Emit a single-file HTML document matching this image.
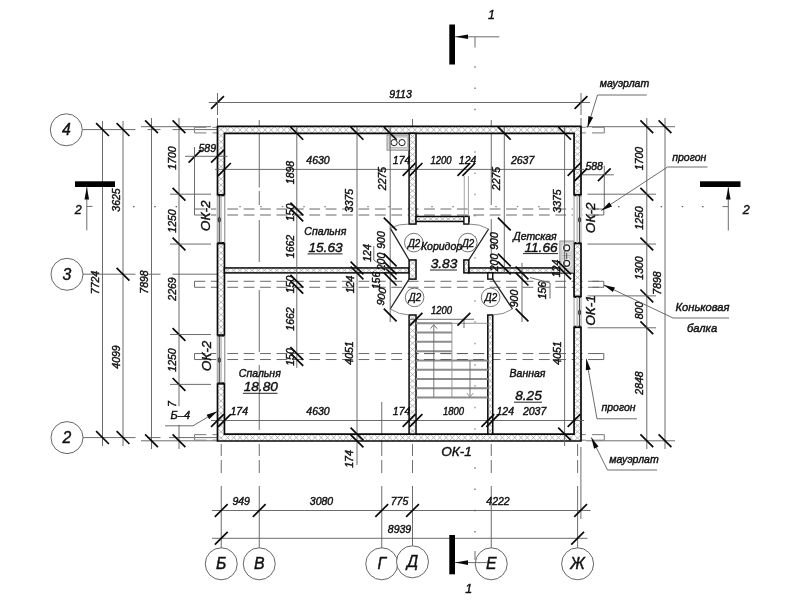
<!DOCTYPE html>
<html lang="ru"><head><meta charset="utf-8"><title>План</title>
<style>
html,body{margin:0;padding:0;background:#fff;}
body{width:800px;height:600px;overflow:hidden;font-family:"Liberation Sans",sans-serif;}
svg{display:block;will-change:transform;}
svg text{font-family:"Liberation Sans",sans-serif;font-style:italic;stroke:#111;stroke-width:0.42px;}
</style></head><body>
<svg width="800" height="600" viewBox="0 0 800 600">
<rect width="800" height="600" fill="#ffffff"/>
<line x1="82.50" y1="129.60" x2="135.50" y2="129.60" stroke="#5c5c5c" stroke-width="0.9"/>
<line x1="82.50" y1="274.20" x2="135.50" y2="274.20" stroke="#5c5c5c" stroke-width="0.9"/>
<line x1="82.50" y1="437.60" x2="135.50" y2="437.60" stroke="#5c5c5c" stroke-width="0.9"/>
<line x1="147.50" y1="274.20" x2="160.50" y2="274.20" stroke="#5c5c5c" stroke-width="0.9"/>
<line x1="172.50" y1="274.20" x2="217.50" y2="274.20" stroke="#5c5c5c" stroke-width="0.9"/>
<line x1="147.50" y1="437.60" x2="160.50" y2="437.60" stroke="#5c5c5c" stroke-width="0.9"/>
<line x1="169.00" y1="437.60" x2="217.50" y2="437.60" stroke="#5c5c5c" stroke-width="0.9"/>
<line x1="147.50" y1="129.60" x2="160.50" y2="129.60" stroke="#5c5c5c" stroke-width="0.9"/>
<line x1="172.50" y1="129.60" x2="217.50" y2="129.60" stroke="#5c5c5c" stroke-width="0.9"/>
<line x1="141.00" y1="126.70" x2="211.00" y2="126.70" stroke="#5c5c5c" stroke-width="0.9"/>
<line x1="141.00" y1="440.80" x2="217.50" y2="440.80" stroke="#5c5c5c" stroke-width="0.9"/>
<line x1="586.00" y1="126.70" x2="675.00" y2="126.70" stroke="#5c5c5c" stroke-width="0.9"/>
<line x1="586.00" y1="440.80" x2="675.00" y2="440.80" stroke="#5c5c5c" stroke-width="0.9"/>
<line x1="221.25" y1="486.00" x2="221.25" y2="548.00" stroke="#5c5c5c" stroke-width="0.9"/>
<line x1="221.25" y1="460.00" x2="221.25" y2="473.00" stroke="#5c5c5c" stroke-width="0.9"/>
<line x1="259.25" y1="486.00" x2="259.25" y2="548.00" stroke="#5c5c5c" stroke-width="0.9"/>
<line x1="259.25" y1="460.00" x2="259.25" y2="473.00" stroke="#5c5c5c" stroke-width="0.9"/>
<line x1="381.75" y1="486.00" x2="381.75" y2="548.00" stroke="#5c5c5c" stroke-width="0.9"/>
<line x1="381.75" y1="460.00" x2="381.75" y2="473.00" stroke="#5c5c5c" stroke-width="0.9"/>
<line x1="412.50" y1="486.00" x2="412.50" y2="548.00" stroke="#5c5c5c" stroke-width="0.9"/>
<line x1="412.50" y1="460.00" x2="412.50" y2="473.00" stroke="#5c5c5c" stroke-width="0.9"/>
<line x1="491.25" y1="486.00" x2="491.25" y2="548.00" stroke="#5c5c5c" stroke-width="0.9"/>
<line x1="491.25" y1="460.00" x2="491.25" y2="473.00" stroke="#5c5c5c" stroke-width="0.9"/>
<line x1="577.60" y1="486.00" x2="577.60" y2="548.00" stroke="#5c5c5c" stroke-width="0.9"/>
<line x1="577.60" y1="460.00" x2="577.60" y2="473.00" stroke="#5c5c5c" stroke-width="0.9"/>
<line x1="259.25" y1="120.00" x2="259.25" y2="187.50" stroke="#5c5c5c" stroke-width="0.9"/>
<line x1="259.25" y1="191.00" x2="259.25" y2="205.00" stroke="#5c5c5c" stroke-width="0.9"/>
<line x1="259.25" y1="220.00" x2="259.25" y2="262.00" stroke="#5c5c5c" stroke-width="0.9"/>
<line x1="259.25" y1="290.00" x2="259.25" y2="352.00" stroke="#5c5c5c" stroke-width="0.9"/>
<line x1="259.25" y1="365.00" x2="259.25" y2="430.00" stroke="#5c5c5c" stroke-width="0.9"/>
<line x1="259.25" y1="444.00" x2="259.25" y2="456.00" stroke="#5c5c5c" stroke-width="0.9"/>
<line x1="381.75" y1="402.00" x2="381.75" y2="456.00" stroke="#5c5c5c" stroke-width="0.9"/>
<line x1="412.50" y1="119.00" x2="412.50" y2="126.00" stroke="#5c5c5c" stroke-width="0.9"/>
<line x1="491.25" y1="120.00" x2="491.25" y2="205.00" stroke="#5c5c5c" stroke-width="0.9"/>
<line x1="491.25" y1="219.00" x2="491.25" y2="262.00" stroke="#5c5c5c" stroke-width="0.9"/>
<line x1="491.25" y1="444.00" x2="491.25" y2="456.00" stroke="#5c5c5c" stroke-width="0.9"/>
<line x1="412.50" y1="444.00" x2="412.50" y2="456.00" stroke="#5c5c5c" stroke-width="0.9"/>
<line x1="221.25" y1="444.00" x2="221.25" y2="456.00" stroke="#5c5c5c" stroke-width="0.9"/>
<line x1="577.60" y1="444.00" x2="577.60" y2="456.00" stroke="#5c5c5c" stroke-width="0.9"/>
<line x1="580.90" y1="447.00" x2="580.90" y2="519.00" stroke="#5c5c5c" stroke-width="0.9"/>
<line x1="475.00" y1="66.30" x2="475.00" y2="67.70" stroke="#555" stroke-width="1.1"/>
<line x1="475.00" y1="87.60" x2="475.00" y2="89.00" stroke="#555" stroke-width="1.1"/>
<line x1="475.00" y1="108.80" x2="475.00" y2="110.20" stroke="#555" stroke-width="1.1"/>
<line x1="475.00" y1="467.30" x2="475.00" y2="468.70" stroke="#555" stroke-width="1.1"/>
<line x1="475.00" y1="488.60" x2="475.00" y2="490.00" stroke="#555" stroke-width="1.1"/>
<line x1="475.00" y1="509.80" x2="475.00" y2="511.20" stroke="#555" stroke-width="1.1"/>
<line x1="475.00" y1="531.10" x2="475.00" y2="532.50" stroke="#555" stroke-width="1.1"/>
<line x1="475.00" y1="151.30" x2="475.00" y2="152.70" stroke="#777" stroke-width="1.1"/>
<line x1="475.00" y1="172.60" x2="475.00" y2="174.00" stroke="#777" stroke-width="1.1"/>
<line x1="475.00" y1="193.80" x2="475.00" y2="195.20" stroke="#777" stroke-width="1.1"/>
<line x1="475.00" y1="215.10" x2="475.00" y2="216.50" stroke="#777" stroke-width="1.1"/>
<line x1="475.00" y1="236.30" x2="475.00" y2="237.70" stroke="#777" stroke-width="1.1"/>
<line x1="475.00" y1="257.30" x2="475.00" y2="258.70" stroke="#777" stroke-width="1.1"/>
<line x1="475.00" y1="300.30" x2="475.00" y2="301.70" stroke="#777" stroke-width="1.1"/>
<line x1="475.00" y1="321.30" x2="475.00" y2="322.70" stroke="#777" stroke-width="1.1"/>
<line x1="475.00" y1="342.80" x2="475.00" y2="344.20" stroke="#777" stroke-width="1.1"/>
<line x1="475.00" y1="364.30" x2="475.00" y2="365.70" stroke="#777" stroke-width="1.1"/>
<line x1="475.00" y1="385.30" x2="475.00" y2="386.70" stroke="#777" stroke-width="1.1"/>
<line x1="475.00" y1="406.80" x2="475.00" y2="408.20" stroke="#777" stroke-width="1.1"/>
<line x1="475.00" y1="428.30" x2="475.00" y2="429.70" stroke="#777" stroke-width="1.1"/>
<line x1="475.00" y1="36.80" x2="475.00" y2="47.50" stroke="#5c5c5c" stroke-width="0.9"/>
<line x1="475.00" y1="551.00" x2="475.00" y2="560.00" stroke="#5c5c5c" stroke-width="0.9"/>
<line x1="133.10" y1="206.60" x2="134.50" y2="206.60" stroke="#555" stroke-width="1.1"/>
<line x1="154.30" y1="206.60" x2="155.70" y2="206.60" stroke="#555" stroke-width="1.1"/>
<line x1="175.60" y1="206.60" x2="177.00" y2="206.60" stroke="#555" stroke-width="1.1"/>
<line x1="618.10" y1="206.60" x2="619.50" y2="206.60" stroke="#555" stroke-width="1.1"/>
<line x1="639.30" y1="206.60" x2="640.70" y2="206.60" stroke="#555" stroke-width="1.1"/>
<line x1="660.60" y1="206.60" x2="662.00" y2="206.60" stroke="#555" stroke-width="1.1"/>
<line x1="681.80" y1="206.60" x2="683.20" y2="206.60" stroke="#555" stroke-width="1.1"/>
<line x1="702.10" y1="206.60" x2="703.50" y2="206.60" stroke="#555" stroke-width="1.1"/>
<line x1="239.30" y1="206.60" x2="240.70" y2="206.60" stroke="#777" stroke-width="1.1"/>
<line x1="260.30" y1="206.60" x2="261.70" y2="206.60" stroke="#777" stroke-width="1.1"/>
<line x1="281.80" y1="206.60" x2="283.20" y2="206.60" stroke="#777" stroke-width="1.1"/>
<line x1="303.30" y1="206.60" x2="304.70" y2="206.60" stroke="#777" stroke-width="1.1"/>
<line x1="324.30" y1="206.60" x2="325.70" y2="206.60" stroke="#777" stroke-width="1.1"/>
<line x1="345.80" y1="206.60" x2="347.20" y2="206.60" stroke="#777" stroke-width="1.1"/>
<line x1="367.30" y1="206.60" x2="368.70" y2="206.60" stroke="#777" stroke-width="1.1"/>
<line x1="388.30" y1="206.60" x2="389.70" y2="206.60" stroke="#777" stroke-width="1.1"/>
<line x1="431.30" y1="206.60" x2="432.70" y2="206.60" stroke="#777" stroke-width="1.1"/>
<line x1="452.30" y1="206.60" x2="453.70" y2="206.60" stroke="#777" stroke-width="1.1"/>
<line x1="495.30" y1="206.60" x2="496.70" y2="206.60" stroke="#777" stroke-width="1.1"/>
<line x1="516.80" y1="206.60" x2="518.20" y2="206.60" stroke="#777" stroke-width="1.1"/>
<line x1="538.30" y1="206.60" x2="539.70" y2="206.60" stroke="#777" stroke-width="1.1"/>
<line x1="559.30" y1="206.60" x2="560.70" y2="206.60" stroke="#777" stroke-width="1.1"/>
<line x1="86.80" y1="206.40" x2="92.50" y2="206.40" stroke="#5c5c5c" stroke-width="0.9"/>
<line x1="722.50" y1="206.60" x2="728.30" y2="206.60" stroke="#5c5c5c" stroke-width="0.9"/>
<line x1="194.50" y1="209.03" x2="603.80" y2="209.03" stroke="#696969" stroke-width="1.0" stroke-dasharray="10.8 5.6"/>
<line x1="194.50" y1="215.01" x2="603.80" y2="215.01" stroke="#696969" stroke-width="1.0" stroke-dasharray="10.8 5.6"/>
<line x1="194.50" y1="209.03" x2="194.50" y2="215.01" stroke="#696969" stroke-width="1.0"/>
<line x1="603.80" y1="209.03" x2="603.80" y2="215.01" stroke="#696969" stroke-width="1.0"/>
<line x1="592.40" y1="209.03" x2="603.80" y2="209.03" stroke="#696969" stroke-width="1.0"/>
<line x1="592.40" y1="215.01" x2="603.80" y2="215.01" stroke="#696969" stroke-width="1.0"/>
<line x1="194.50" y1="281.29" x2="603.80" y2="281.29" stroke="#696969" stroke-width="1.0" stroke-dasharray="10.8 5.6"/>
<line x1="194.50" y1="287.28" x2="603.80" y2="287.28" stroke="#696969" stroke-width="1.0" stroke-dasharray="10.8 5.6"/>
<line x1="194.50" y1="281.29" x2="194.50" y2="287.28" stroke="#696969" stroke-width="1.0"/>
<line x1="603.80" y1="281.29" x2="603.80" y2="287.28" stroke="#696969" stroke-width="1.0"/>
<line x1="592.40" y1="281.29" x2="603.80" y2="281.29" stroke="#696969" stroke-width="1.0"/>
<line x1="592.40" y1="287.28" x2="603.80" y2="287.28" stroke="#696969" stroke-width="1.0"/>
<line x1="194.50" y1="353.56" x2="603.80" y2="353.56" stroke="#696969" stroke-width="1.0" stroke-dasharray="10.8 5.6"/>
<line x1="194.50" y1="359.54" x2="603.80" y2="359.54" stroke="#696969" stroke-width="1.0" stroke-dasharray="10.8 5.6"/>
<line x1="194.50" y1="353.56" x2="194.50" y2="359.54" stroke="#696969" stroke-width="1.0"/>
<line x1="603.80" y1="353.56" x2="603.80" y2="359.54" stroke="#696969" stroke-width="1.0"/>
<line x1="592.40" y1="353.56" x2="603.80" y2="353.56" stroke="#696969" stroke-width="1.0"/>
<line x1="592.40" y1="359.54" x2="603.80" y2="359.54" stroke="#696969" stroke-width="1.0"/>
<line x1="194.50" y1="127.30" x2="206.30" y2="127.30" stroke="#858585" stroke-width="1.1"/>
<line x1="212.50" y1="127.30" x2="217.50" y2="127.30" stroke="#858585" stroke-width="1.1"/>
<line x1="582.00" y1="127.30" x2="585.80" y2="127.30" stroke="#858585" stroke-width="1.1"/>
<line x1="592.00" y1="127.30" x2="604.30" y2="127.30" stroke="#858585" stroke-width="1.1"/>
<line x1="194.50" y1="132.90" x2="206.30" y2="132.90" stroke="#858585" stroke-width="1.1"/>
<line x1="212.50" y1="132.90" x2="217.50" y2="132.90" stroke="#858585" stroke-width="1.1"/>
<line x1="582.00" y1="132.90" x2="585.80" y2="132.90" stroke="#858585" stroke-width="1.1"/>
<line x1="592.00" y1="132.90" x2="604.30" y2="132.90" stroke="#858585" stroke-width="1.1"/>
<line x1="194.50" y1="127.30" x2="194.50" y2="132.90" stroke="#858585" stroke-width="1.1"/>
<line x1="604.30" y1="127.30" x2="604.30" y2="132.90" stroke="#858585" stroke-width="1.1"/>
<line x1="194.50" y1="434.60" x2="206.30" y2="434.60" stroke="#858585" stroke-width="1.1"/>
<line x1="212.50" y1="434.60" x2="217.50" y2="434.60" stroke="#858585" stroke-width="1.1"/>
<line x1="582.00" y1="434.60" x2="585.80" y2="434.60" stroke="#858585" stroke-width="1.1"/>
<line x1="592.00" y1="434.60" x2="604.30" y2="434.60" stroke="#858585" stroke-width="1.1"/>
<line x1="194.50" y1="440.20" x2="206.30" y2="440.20" stroke="#858585" stroke-width="1.1"/>
<line x1="212.50" y1="440.20" x2="217.50" y2="440.20" stroke="#858585" stroke-width="1.1"/>
<line x1="582.00" y1="440.20" x2="585.80" y2="440.20" stroke="#858585" stroke-width="1.1"/>
<line x1="592.00" y1="440.20" x2="604.30" y2="440.20" stroke="#858585" stroke-width="1.1"/>
<line x1="194.50" y1="434.60" x2="194.50" y2="440.20" stroke="#858585" stroke-width="1.1"/>
<line x1="604.30" y1="434.60" x2="604.30" y2="440.20" stroke="#858585" stroke-width="1.1"/>
<path d="M217.5 126.4H581.0V441.0H217.5Z M224.44 133.34V434.06H574.06V133.34Z" fill="#fff" fill-rule="evenodd"/>
<polyline points="224.44,126.40 230.68,133.34 236.93,126.40 243.17,133.34 249.41,126.40 255.66,133.34 261.90,126.40 268.14,133.34 274.39,126.40 280.63,133.34 286.87,126.40 293.11,133.34 299.36,126.40 305.60,133.34 311.84,126.40 318.09,133.34 324.33,126.40 330.57,133.34 336.82,126.40 343.06,133.34 349.30,126.40 355.55,133.34 361.79,126.40 368.03,133.34 374.28,126.40 380.52,133.34 386.76,126.40 393.01,133.34 399.25,126.40 405.49,133.34 411.74,126.40 417.98,133.34 424.22,126.40 430.47,133.34 436.71,126.40 442.95,133.34 449.20,126.40 455.44,133.34 461.68,126.40 467.93,133.34 474.17,126.40 480.41,133.34 486.66,126.40 492.90,133.34 499.14,126.40 505.39,133.34 511.63,126.40 517.87,133.34 524.11,126.40 530.36,133.34 536.60,126.40 542.84,133.34 549.09,126.40 555.33,133.34 561.57,126.40 567.82,133.34 574.06,126.40" fill="none" stroke="#a4a4a4" stroke-width="0.75"/>
<polyline points="224.44,133.34 230.68,126.40 236.93,133.34 243.17,126.40 249.41,133.34 255.66,126.40 261.90,133.34 268.14,126.40 274.39,133.34 280.63,126.40 286.87,133.34 293.11,126.40 299.36,133.34 305.60,126.40 311.84,133.34 318.09,126.40 324.33,133.34 330.57,126.40 336.82,133.34 343.06,126.40 349.30,133.34 355.55,126.40 361.79,133.34 368.03,126.40 374.28,133.34 380.52,126.40 386.76,133.34 393.01,126.40 399.25,133.34 405.49,126.40 411.74,133.34 417.98,126.40 424.22,133.34 430.47,126.40 436.71,133.34 442.95,126.40 449.20,133.34 455.44,126.40 461.68,133.34 467.93,126.40 474.17,133.34 480.41,126.40 486.66,133.34 492.90,126.40 499.14,133.34 505.39,126.40 511.63,133.34 517.87,126.40 524.11,133.34 530.36,126.40 536.60,133.34 542.84,126.40 549.09,133.34 555.33,126.40 561.57,133.34 567.82,126.40 574.06,133.34" fill="none" stroke="#a4a4a4" stroke-width="0.75"/>
<polyline points="224.44,434.06 230.68,441.00 236.93,434.06 243.17,441.00 249.41,434.06 255.66,441.00 261.90,434.06 268.14,441.00 274.39,434.06 280.63,441.00 286.87,434.06 293.11,441.00 299.36,434.06 305.60,441.00 311.84,434.06 318.09,441.00 324.33,434.06 330.57,441.00 336.82,434.06 343.06,441.00 349.30,434.06 355.55,441.00 361.79,434.06 368.03,441.00 374.28,434.06 380.52,441.00 386.76,434.06 393.01,441.00 399.25,434.06 405.49,441.00 411.74,434.06 417.98,441.00 424.22,434.06 430.47,441.00 436.71,434.06 442.95,441.00 449.20,434.06 455.44,441.00 461.68,434.06 467.93,441.00 474.17,434.06 480.41,441.00 486.66,434.06 492.90,441.00 499.14,434.06 505.39,441.00 511.63,434.06 517.87,441.00 524.11,434.06 530.36,441.00 536.60,434.06 542.84,441.00 549.09,434.06 555.33,441.00 561.57,434.06 567.82,441.00 574.06,434.06" fill="none" stroke="#a4a4a4" stroke-width="0.75"/>
<polyline points="224.44,441.00 230.68,434.06 236.93,441.00 243.17,434.06 249.41,441.00 255.66,434.06 261.90,441.00 268.14,434.06 274.39,441.00 280.63,434.06 286.87,441.00 293.11,434.06 299.36,441.00 305.60,434.06 311.84,441.00 318.09,434.06 324.33,441.00 330.57,434.06 336.82,441.00 343.06,434.06 349.30,441.00 355.55,434.06 361.79,441.00 368.03,434.06 374.28,441.00 380.52,434.06 386.76,441.00 393.01,434.06 399.25,441.00 405.49,434.06 411.74,441.00 417.98,434.06 424.22,441.00 430.47,434.06 436.71,441.00 442.95,434.06 449.20,441.00 455.44,434.06 461.68,441.00 467.93,434.06 474.17,441.00 480.41,434.06 486.66,441.00 492.90,434.06 499.14,441.00 505.39,434.06 511.63,441.00 517.87,434.06 524.11,441.00 530.36,434.06 536.60,441.00 542.84,434.06 549.09,441.00 555.33,434.06 561.57,441.00 567.82,434.06 574.06,441.00" fill="none" stroke="#a4a4a4" stroke-width="0.75"/>
<polyline points="217.50,126.40 224.44,132.57 217.50,138.74 224.44,144.91 217.50,151.07 224.44,157.24 217.50,163.41 224.44,169.58 217.50,175.75 224.44,181.92 217.50,188.09 224.44,194.25 217.50,200.42 224.44,206.59 217.50,212.76 224.44,218.93 217.50,225.10 224.44,231.27 217.50,237.44 224.44,243.60 217.50,249.77 224.44,255.94 217.50,262.11 224.44,268.28 217.50,274.45 224.44,280.62 217.50,286.78 224.44,292.95 217.50,299.12 224.44,305.29 217.50,311.46 224.44,317.63 217.50,323.80 224.44,329.96 217.50,336.13 224.44,342.30 217.50,348.47 224.44,354.64 217.50,360.81 224.44,366.98 217.50,373.15 224.44,379.31 217.50,385.48 224.44,391.65 217.50,397.82 224.44,403.99 217.50,410.16 224.44,416.33 217.50,422.49 224.44,428.66 217.50,434.83 224.44,441.00" fill="none" stroke="#a4a4a4" stroke-width="0.75"/>
<polyline points="224.44,126.40 217.50,132.57 224.44,138.74 217.50,144.91 224.44,151.07 217.50,157.24 224.44,163.41 217.50,169.58 224.44,175.75 217.50,181.92 224.44,188.09 217.50,194.25 224.44,200.42 217.50,206.59 224.44,212.76 217.50,218.93 224.44,225.10 217.50,231.27 224.44,237.44 217.50,243.60 224.44,249.77 217.50,255.94 224.44,262.11 217.50,268.28 224.44,274.45 217.50,280.62 224.44,286.78 217.50,292.95 224.44,299.12 217.50,305.29 224.44,311.46 217.50,317.63 224.44,323.80 217.50,329.96 224.44,336.13 217.50,342.30 224.44,348.47 217.50,354.64 224.44,360.81 217.50,366.98 224.44,373.15 217.50,379.31 224.44,385.48 217.50,391.65 224.44,397.82 217.50,403.99 224.44,410.16 217.50,416.33 224.44,422.49 217.50,428.66 224.44,434.83 217.50,441.00" fill="none" stroke="#a4a4a4" stroke-width="0.75"/>
<polyline points="574.06,126.40 581.00,132.57 574.06,138.74 581.00,144.91 574.06,151.07 581.00,157.24 574.06,163.41 581.00,169.58 574.06,175.75 581.00,181.92 574.06,188.09 581.00,194.25 574.06,200.42 581.00,206.59 574.06,212.76 581.00,218.93 574.06,225.10 581.00,231.27 574.06,237.44 581.00,243.60 574.06,249.77 581.00,255.94 574.06,262.11 581.00,268.28 574.06,274.45 581.00,280.62 574.06,286.78 581.00,292.95 574.06,299.12 581.00,305.29 574.06,311.46 581.00,317.63 574.06,323.80 581.00,329.96 574.06,336.13 581.00,342.30 574.06,348.47 581.00,354.64 574.06,360.81 581.00,366.98 574.06,373.15 581.00,379.31 574.06,385.48 581.00,391.65 574.06,397.82 581.00,403.99 574.06,410.16 581.00,416.33 574.06,422.49 581.00,428.66 574.06,434.83 581.00,441.00" fill="none" stroke="#a4a4a4" stroke-width="0.75"/>
<polyline points="581.00,126.40 574.06,132.57 581.00,138.74 574.06,144.91 581.00,151.07 574.06,157.24 581.00,163.41 574.06,169.58 581.00,175.75 574.06,181.92 581.00,188.09 574.06,194.25 581.00,200.42 574.06,206.59 581.00,212.76 574.06,218.93 581.00,225.10 574.06,231.27 581.00,237.44 574.06,243.60 581.00,249.77 574.06,255.94 581.00,262.11 574.06,268.28 581.00,274.45 574.06,280.62 581.00,286.78 574.06,292.95 581.00,299.12 574.06,305.29 581.00,311.46 574.06,317.63 581.00,323.80 574.06,329.96 581.00,336.13 574.06,342.30 581.00,348.47 574.06,354.64 581.00,360.81 574.06,366.98 581.00,373.15 574.06,379.31 581.00,385.48 574.06,391.65 581.00,397.82 574.06,403.99 581.00,410.16 574.06,416.33 581.00,422.49 574.06,428.66 581.00,434.83 574.06,441.00" fill="none" stroke="#a4a4a4" stroke-width="0.75"/>
<path d="M217.5 126.4H581.0V441.0H217.5Z M224.44 133.34V434.06H574.06V133.34Z" fill="none" fill-rule="evenodd" stroke="#0a0a0a" stroke-width="1.7"/>
<rect x="224.44" y="267.93" width="184.64" height="4.95" fill="#fff" stroke="none" stroke-width="1.4"/>
<polyline points="224.44,267.93 230.59,272.88 236.75,267.93 242.90,272.88 249.06,267.93 255.21,272.88 261.37,267.93 267.52,272.88 273.68,267.93 279.83,272.88 285.99,267.93 292.14,272.88 298.30,267.93 304.45,272.88 310.61,267.93 316.76,272.88 322.92,267.93 329.07,272.88 335.23,267.93 341.38,272.88 347.54,267.93 353.69,272.88 359.85,267.93 366.00,272.88 372.15,267.93 378.31,272.88 384.46,267.93 390.62,272.88 396.77,267.93 402.93,272.88 409.08,267.93" fill="none" stroke="#a4a4a4" stroke-width="0.75"/>
<polyline points="224.44,272.88 230.59,267.93 236.75,272.88 242.90,267.93 249.06,272.88 255.21,267.93 261.37,272.88 267.52,267.93 273.68,272.88 279.83,267.93 285.99,272.88 292.14,267.93 298.30,272.88 304.45,267.93 310.61,272.88 316.76,267.93 322.92,272.88 329.07,267.93 335.23,272.88 341.38,267.93 347.54,272.88 353.69,267.93 359.85,272.88 366.00,267.93 372.15,272.88 378.31,267.93 384.46,272.88 390.62,267.93 396.77,272.88 402.93,267.93 409.08,272.88" fill="none" stroke="#a4a4a4" stroke-width="0.75"/>
<rect x="224.44" y="267.93" width="184.64" height="4.95" fill="none" stroke="#0a0a0a" stroke-width="1.5"/>
<rect x="468.82" y="267.93" width="105.24" height="4.95" fill="#fff" stroke="none" stroke-width="1.4"/>
<polyline points="468.82,267.93 475.01,272.88 481.20,267.93 487.40,272.88 493.59,267.93 499.78,272.88 505.97,267.93 512.16,272.88 518.35,267.93 524.54,272.88 530.73,267.93 536.92,272.88 543.11,267.93 549.30,272.88 555.49,267.93 561.68,272.88 567.87,267.93 574.06,272.88" fill="none" stroke="#a4a4a4" stroke-width="0.75"/>
<polyline points="468.82,272.88 475.01,267.93 481.20,272.88 487.40,267.93 493.59,272.88 499.78,267.93 505.97,272.88 512.16,267.93 518.35,272.88 524.54,267.93 530.73,272.88 536.92,267.93 543.11,272.88 549.30,267.93 555.49,272.88 561.68,267.93 567.87,272.88 574.06,267.93" fill="none" stroke="#a4a4a4" stroke-width="0.75"/>
<rect x="468.82" y="267.93" width="105.24" height="4.95" fill="none" stroke="#0a0a0a" stroke-width="1.5"/>
<rect x="409.08" y="133.34" width="6.94" height="90.73" fill="#fff" stroke="none" stroke-width="1.4"/>
<polyline points="409.08,133.34 416.02,139.39 409.08,145.44 416.02,151.48 409.08,157.53 416.02,163.58 409.08,169.63 416.02,175.68 409.08,181.73 416.02,187.78 409.08,193.82 416.02,199.87 409.08,205.92 416.02,211.97 409.08,218.02 416.02,224.07" fill="none" stroke="#a4a4a4" stroke-width="0.75"/>
<polyline points="416.02,133.34 409.08,139.39 416.02,145.44 409.08,151.48 416.02,157.53 409.08,163.58 416.02,169.63 409.08,175.68 416.02,181.73 409.08,187.78 416.02,193.82 409.08,199.87 416.02,205.92 409.08,211.97 416.02,218.02 409.08,224.07" fill="none" stroke="#a4a4a4" stroke-width="0.75"/>
<rect x="409.08" y="133.34" width="6.94" height="90.73" fill="none" stroke="#0a0a0a" stroke-width="1.5"/>
<rect x="416.02" y="216.47" width="52.80" height="5.00" fill="#fff" stroke="none" stroke-width="1.4"/>
<polyline points="416.02,216.47 421.89,221.47 427.76,216.47 433.62,221.47 439.49,216.47 445.36,221.47 451.22,216.47 457.09,221.47 462.96,216.47 468.82,221.47" fill="none" stroke="#a4a4a4" stroke-width="0.75"/>
<polyline points="416.02,221.47 421.89,216.47 427.76,221.47 433.62,216.47 439.49,221.47 445.36,216.47 451.22,221.47 457.09,216.47 462.96,221.47 468.82,216.47" fill="none" stroke="#a4a4a4" stroke-width="0.75"/>
<rect x="416.02" y="216.47" width="52.80" height="5.00" fill="none" stroke="#0a0a0a" stroke-width="1.5"/>
<rect x="463.88" y="216.47" width="4.95" height="7.60" fill="#fff" stroke="#0a0a0a" stroke-width="1.4"/>
<rect x="409.08" y="259.96" width="6.94" height="19.14" fill="#fff" stroke="none" stroke-width="1.4"/>
<polyline points="409.08,259.96 416.02,266.34 409.08,272.72 416.02,279.10" fill="none" stroke="#a4a4a4" stroke-width="0.75"/>
<polyline points="416.02,259.96 409.08,266.34 416.02,272.72 409.08,279.10" fill="none" stroke="#a4a4a4" stroke-width="0.75"/>
<rect x="409.08" y="259.96" width="6.94" height="19.14" fill="none" stroke="#0a0a0a" stroke-width="1.5"/>
<rect x="463.88" y="259.96" width="4.95" height="12.92" fill="#fff" stroke="none" stroke-width="1.4"/>
<polyline points="463.88,259.96 468.82,266.42 463.88,272.88" fill="none" stroke="#a4a4a4" stroke-width="0.75"/>
<polyline points="468.82,259.96 463.88,266.42 468.82,272.88" fill="none" stroke="#a4a4a4" stroke-width="0.75"/>
<rect x="463.88" y="259.96" width="4.95" height="12.92" fill="none" stroke="#0a0a0a" stroke-width="1.5"/>
<rect x="487.81" y="272.88" width="4.95" height="6.22" fill="#fff" stroke="#0a0a0a" stroke-width="1.4"/>
<rect x="409.08" y="314.99" width="6.94" height="119.07" fill="#fff" stroke="none" stroke-width="1.4"/>
<polyline points="409.08,314.99 416.02,321.26 409.08,327.53 416.02,333.79 409.08,340.06 416.02,346.33 409.08,352.59 416.02,358.86 409.08,365.13 416.02,371.39 409.08,377.66 416.02,383.93 409.08,390.19 416.02,396.46 409.08,402.73 416.02,408.99 409.08,415.26 416.02,421.53 409.08,427.79 416.02,434.06" fill="none" stroke="#a4a4a4" stroke-width="0.75"/>
<polyline points="416.02,314.99 409.08,321.26 416.02,327.53 409.08,333.79 416.02,340.06 409.08,346.33 416.02,352.59 409.08,358.86 416.02,365.13 409.08,371.39 416.02,377.66 409.08,383.93 416.02,390.19 409.08,396.46 416.02,402.73 409.08,408.99 416.02,415.26 409.08,421.53 416.02,427.79 409.08,434.06" fill="none" stroke="#a4a4a4" stroke-width="0.75"/>
<rect x="409.08" y="314.99" width="6.94" height="119.07" fill="none" stroke="#0a0a0a" stroke-width="1.5"/>
<rect x="487.81" y="314.99" width="4.95" height="119.07" fill="#fff" stroke="none" stroke-width="1.4"/>
<polyline points="487.81,314.99 492.75,321.26 487.81,327.53 492.75,333.79 487.81,340.06 492.75,346.33 487.81,352.59 492.75,358.86 487.81,365.13 492.75,371.39 487.81,377.66 492.75,383.93 487.81,390.19 492.75,396.46 487.81,402.73 492.75,408.99 487.81,415.26 492.75,421.53 487.81,427.79 492.75,434.06" fill="none" stroke="#a4a4a4" stroke-width="0.75"/>
<polyline points="492.75,314.99 487.81,321.26 492.75,327.53 487.81,333.79 492.75,340.06 487.81,346.33 492.75,352.59 487.81,358.86 492.75,365.13 487.81,371.39 492.75,377.66 487.81,383.93 492.75,390.19 487.81,396.46 492.75,402.73 487.81,408.99 492.75,415.26 487.81,421.53 492.75,427.79 487.81,434.06" fill="none" stroke="#a4a4a4" stroke-width="0.75"/>
<rect x="487.81" y="314.99" width="4.95" height="119.07" fill="none" stroke="#0a0a0a" stroke-width="1.5"/>
<line x1="464.28" y1="176.00" x2="464.28" y2="216.47" stroke="#9a9a9a" stroke-width="0.9"/>
<line x1="468.42" y1="176.00" x2="468.42" y2="216.47" stroke="#9a9a9a" stroke-width="0.9"/>
<rect x="216.30" y="195.40" width="9.34" height="47.45" fill="#fff" stroke="none" stroke-width="1.4"/>
<line x1="217.20" y1="195.10" x2="224.74" y2="195.10" stroke="#0a0a0a" stroke-width="2.4"/>
<line x1="217.20" y1="243.15" x2="224.74" y2="243.15" stroke="#0a0a0a" stroke-width="2.4"/>
<line x1="217.80" y1="195.40" x2="217.80" y2="242.85" stroke="#8a8a8a" stroke-width="1.0"/>
<line x1="219.30" y1="195.40" x2="219.30" y2="242.85" stroke="#2a2a2a" stroke-width="0.9"/>
<line x1="221.00" y1="195.40" x2="221.00" y2="242.85" stroke="#8a8a8a" stroke-width="0.9"/>
<line x1="224.64" y1="195.40" x2="224.64" y2="242.85" stroke="#8a8a8a" stroke-width="0.9"/>
<ellipse cx="219.30" cy="219.72" rx="1.1" ry="2.5" fill="#666" stroke="#1a1a1a" stroke-width="0.8"/>
<rect x="216.30" y="335.73" width="9.34" height="47.45" fill="#fff" stroke="none" stroke-width="1.4"/>
<line x1="217.20" y1="335.43" x2="224.74" y2="335.43" stroke="#0a0a0a" stroke-width="2.4"/>
<line x1="217.20" y1="383.48" x2="224.74" y2="383.48" stroke="#0a0a0a" stroke-width="2.4"/>
<line x1="217.80" y1="335.73" x2="217.80" y2="383.18" stroke="#8a8a8a" stroke-width="1.0"/>
<line x1="219.30" y1="335.73" x2="219.30" y2="383.18" stroke="#2a2a2a" stroke-width="0.9"/>
<line x1="221.00" y1="335.73" x2="221.00" y2="383.18" stroke="#8a8a8a" stroke-width="0.9"/>
<line x1="224.64" y1="335.73" x2="224.64" y2="383.18" stroke="#8a8a8a" stroke-width="0.9"/>
<ellipse cx="219.30" cy="360.06" rx="1.1" ry="2.5" fill="#666" stroke="#1a1a1a" stroke-width="0.8"/>
<rect x="572.86" y="195.40" width="9.34" height="47.45" fill="#fff" stroke="none" stroke-width="1.4"/>
<line x1="573.76" y1="195.10" x2="581.30" y2="195.10" stroke="#0a0a0a" stroke-width="2.4"/>
<line x1="573.76" y1="243.15" x2="581.30" y2="243.15" stroke="#0a0a0a" stroke-width="2.4"/>
<rect x="576.36" y="195.40" width="2.00" height="47.45" fill="#c4c4c4" stroke="none" stroke-width="1.4"/>
<line x1="574.06" y1="195.40" x2="574.06" y2="242.85" stroke="#8a8a8a" stroke-width="0.9"/>
<line x1="579.56" y1="195.40" x2="579.56" y2="242.85" stroke="#2a2a2a" stroke-width="0.9"/>
<line x1="581.00" y1="195.40" x2="581.00" y2="242.85" stroke="#9a9a9a" stroke-width="1.0"/>
<ellipse cx="579.56" cy="219.72" rx="1.1" ry="2.5" fill="#666" stroke="#1a1a1a" stroke-width="0.8"/>
<rect x="572.86" y="297.09" width="9.34" height="29.50" fill="#fff" stroke="none" stroke-width="1.4"/>
<line x1="573.76" y1="296.79" x2="581.30" y2="296.79" stroke="#0a0a0a" stroke-width="2.4"/>
<line x1="573.76" y1="326.89" x2="581.30" y2="326.89" stroke="#0a0a0a" stroke-width="2.4"/>
<rect x="576.36" y="297.09" width="2.00" height="29.50" fill="#c4c4c4" stroke="none" stroke-width="1.4"/>
<line x1="574.06" y1="297.09" x2="574.06" y2="326.59" stroke="#8a8a8a" stroke-width="0.9"/>
<line x1="579.56" y1="297.09" x2="579.56" y2="326.59" stroke="#2a2a2a" stroke-width="0.9"/>
<line x1="581.00" y1="297.09" x2="581.00" y2="326.59" stroke="#9a9a9a" stroke-width="1.0"/>
<ellipse cx="579.56" cy="312.44" rx="1.1" ry="2.5" fill="#666" stroke="#1a1a1a" stroke-width="0.8"/>
<line x1="416.02" y1="323.30" x2="451.91" y2="323.30" stroke="#8c8c8c" stroke-width="2.0"/>
<line x1="416.02" y1="332.58" x2="451.91" y2="332.58" stroke="#8c8c8c" stroke-width="2.0"/>
<line x1="416.02" y1="341.86" x2="451.91" y2="341.86" stroke="#8c8c8c" stroke-width="2.0"/>
<line x1="416.02" y1="351.14" x2="451.91" y2="351.14" stroke="#8c8c8c" stroke-width="2.0"/>
<line x1="416.02" y1="360.42" x2="451.91" y2="360.42" stroke="#8c8c8c" stroke-width="2.0"/>
<line x1="416.02" y1="369.70" x2="451.91" y2="369.70" stroke="#8c8c8c" stroke-width="2.0"/>
<line x1="416.02" y1="378.98" x2="451.91" y2="378.98" stroke="#8c8c8c" stroke-width="2.0"/>
<line x1="416.02" y1="388.26" x2="451.91" y2="388.26" stroke="#8c8c8c" stroke-width="2.0"/>
<line x1="416.02" y1="397.54" x2="451.91" y2="397.54" stroke="#8c8c8c" stroke-width="2.0"/>
<line x1="451.91" y1="360.42" x2="487.81" y2="360.42" stroke="#8c8c8c" stroke-width="2.0"/>
<line x1="451.91" y1="369.70" x2="487.81" y2="369.70" stroke="#8c8c8c" stroke-width="2.0"/>
<line x1="451.91" y1="378.98" x2="487.81" y2="378.98" stroke="#8c8c8c" stroke-width="2.0"/>
<line x1="451.91" y1="388.26" x2="487.81" y2="388.26" stroke="#8c8c8c" stroke-width="2.0"/>
<line x1="451.91" y1="397.54" x2="487.81" y2="397.54" stroke="#8c8c8c" stroke-width="2.0"/>
<line x1="416.02" y1="323.30" x2="487.81" y2="323.30" stroke="#8c8c8c" stroke-width="0.9"/>
<line x1="451.91" y1="323.30" x2="451.91" y2="397.54" stroke="#8c8c8c" stroke-width="0.9"/>
<line x1="433.80" y1="325.00" x2="433.80" y2="397.54" stroke="#6a6a6a" stroke-width="0.9"/>
<path d="M430.6 328.6L433.8 324.6L437 328.6" fill="none" stroke="#6a6a6a" stroke-width="0.9"/>
<line x1="470.00" y1="360.42" x2="470.00" y2="397.04" stroke="#6a6a6a" stroke-width="0.9"/>
<path d="M466.8 393L470 397L473.2 393" fill="none" stroke="#8c8c8c" stroke-width="0.9"/>
<clipPath id="cs"><rect x="416.82" y="340" width="70.18" height="40"/></clipPath>
<g clip-path="url(#cs)">
<line x1="194.50" y1="353.56" x2="603.80" y2="353.56" stroke="#5e5e5e" stroke-width="1.0" stroke-dasharray="10.8 5.6"/>
<line x1="194.50" y1="359.54" x2="603.80" y2="359.54" stroke="#5e5e5e" stroke-width="1.0" stroke-dasharray="10.8 5.6"/>
</g>
<line x1="409.08" y1="259.96" x2="390.20" y2="228.20" stroke="#222" stroke-width="1.3"/>
<path d="M390.20 228.20A36.95 36.95 0 0 1 409.08 224.07" fill="none" stroke="#7a7a7a" stroke-width="0.9"/>
<line x1="468.82" y1="259.96" x2="488.60" y2="229.00" stroke="#222" stroke-width="1.3"/>
<path d="M488.60 229.00A36.74 36.74 0 0 0 468.82 224.07" fill="none" stroke="#7a7a7a" stroke-width="0.9"/>
<line x1="409.08" y1="279.10" x2="390.20" y2="309.00" stroke="#222" stroke-width="1.3"/>
<path d="M390.20 309.00A35.36 35.36 0 0 0 409.08 314.99" fill="none" stroke="#7a7a7a" stroke-width="0.9"/>
<line x1="492.75" y1="279.10" x2="512.50" y2="309.00" stroke="#222" stroke-width="1.3"/>
<path d="M512.50 309.00A35.83 35.83 0 0 1 492.75 314.99" fill="none" stroke="#7a7a7a" stroke-width="0.9"/>
<circle cx="413.80" cy="242.60" r="9.3" fill="#fff" stroke="#666" stroke-width="0.9"/>
<text transform="translate(414.10 246.60) scale(0.86 1)" font-size="11.4" text-anchor="middle" fill="#111">Д2</text>
<circle cx="467.80" cy="242.60" r="9.3" fill="#fff" stroke="#666" stroke-width="0.9"/>
<text transform="translate(468.10 246.60) scale(0.86 1)" font-size="11.4" text-anchor="middle" fill="#111">Д2</text>
<circle cx="414.60" cy="297.40" r="9.3" fill="#fff" stroke="#666" stroke-width="0.9"/>
<text transform="translate(414.90 301.40) scale(0.86 1)" font-size="11.4" text-anchor="middle" fill="#111">Д2</text>
<circle cx="490.60" cy="297.40" r="9.3" fill="#fff" stroke="#666" stroke-width="0.9"/>
<text transform="translate(490.90 301.40) scale(0.86 1)" font-size="11.4" text-anchor="middle" fill="#111">Д2</text>
<rect x="387.00" y="135.00" width="21.40" height="15.20" fill="#d6d6d6" stroke="#8a8a8a" stroke-width="0.9"/>
<rect x="389.40" y="137.00" width="18.20" height="10.60" fill="#f4f4f4" stroke="#a8a8a8" stroke-width="0.7"/>
<circle cx="394.10" cy="142.60" r="3.1" fill="#fff" stroke="#222" stroke-width="1.0"/>
<circle cx="402.00" cy="142.60" r="3.1" fill="#fff" stroke="#222" stroke-width="1.0"/>
<rect x="559.80" y="241.00" width="13.80" height="31.40" fill="#d2d2d2" stroke="#8e8e8e" stroke-width="0.9"/>
<circle cx="566.70" cy="247.90" r="4.4" fill="#fafafa" stroke="#fafafa" stroke-width="0.8"/>
<circle cx="566.70" cy="247.90" r="3.0" fill="#fff" stroke="#222" stroke-width="1.2"/>
<circle cx="566.70" cy="263.30" r="4.4" fill="#fafafa" stroke="#fafafa" stroke-width="0.8"/>
<circle cx="566.70" cy="263.30" r="3.0" fill="#fff" stroke="#222" stroke-width="1.2"/>
<rect x="562.40" y="254.60" width="8.60" height="2.40" fill="#f4f4f4" stroke="none" stroke-width="1.4"/>
<line x1="562.40" y1="255.80" x2="571.00" y2="255.80" stroke="#555" stroke-width="0.6"/>
<line x1="566.70" y1="252.60" x2="566.70" y2="259.00" stroke="#333" stroke-width="0.8"/>
<line x1="102.50" y1="121.00" x2="102.50" y2="446.00" stroke="#5c5c5c" stroke-width="0.9"/>
<line x1="123.00" y1="121.00" x2="123.00" y2="446.00" stroke="#5c5c5c" stroke-width="0.9"/>
<line x1="151.50" y1="118.00" x2="151.50" y2="449.00" stroke="#5c5c5c" stroke-width="0.9"/>
<line x1="179.00" y1="118.00" x2="179.00" y2="449.00" stroke="#5c5c5c" stroke-width="0.9"/>
<line x1="96.10" y1="123.20" x2="108.90" y2="136.00" stroke="#0a0a0a" stroke-width="1.7"/>
<line x1="96.10" y1="431.20" x2="108.90" y2="444.00" stroke="#0a0a0a" stroke-width="1.7"/>
<line x1="116.60" y1="123.20" x2="129.40" y2="136.00" stroke="#0a0a0a" stroke-width="1.7"/>
<line x1="116.60" y1="267.80" x2="129.40" y2="280.60" stroke="#0a0a0a" stroke-width="1.7"/>
<line x1="116.60" y1="431.20" x2="129.40" y2="444.00" stroke="#0a0a0a" stroke-width="1.7"/>
<line x1="145.10" y1="120.30" x2="157.90" y2="133.10" stroke="#0a0a0a" stroke-width="1.7"/>
<line x1="145.10" y1="434.40" x2="157.90" y2="447.20" stroke="#0a0a0a" stroke-width="1.7"/>
<line x1="172.60" y1="120.30" x2="185.40" y2="133.10" stroke="#0a0a0a" stroke-width="1.7"/>
<line x1="172.60" y1="187.80" x2="185.40" y2="200.60" stroke="#0a0a0a" stroke-width="1.7"/>
<line x1="172.60" y1="237.65" x2="185.40" y2="250.45" stroke="#0a0a0a" stroke-width="1.7"/>
<line x1="172.60" y1="328.13" x2="185.40" y2="340.93" stroke="#0a0a0a" stroke-width="1.7"/>
<line x1="172.60" y1="377.98" x2="185.40" y2="390.78" stroke="#0a0a0a" stroke-width="1.7"/>
<line x1="172.60" y1="434.40" x2="185.40" y2="447.20" stroke="#0a0a0a" stroke-width="1.7"/>
<line x1="170.00" y1="194.20" x2="211.00" y2="194.20" stroke="#5c5c5c" stroke-width="0.9"/>
<line x1="170.00" y1="244.05" x2="211.00" y2="244.05" stroke="#5c5c5c" stroke-width="0.9"/>
<line x1="170.00" y1="334.53" x2="211.00" y2="334.53" stroke="#5c5c5c" stroke-width="0.9"/>
<line x1="170.00" y1="384.38" x2="211.00" y2="384.38" stroke="#5c5c5c" stroke-width="0.9"/>
<text transform="translate(98.60 282.50) rotate(-90)" font-size="10.5" text-anchor="middle" fill="#111">7724</text>
<text transform="translate(119.60 200.00) rotate(-90)" font-size="10.5" text-anchor="middle" fill="#111">3625</text>
<text transform="translate(119.60 357.00) rotate(-90)" font-size="10.5" text-anchor="middle" fill="#111">4099</text>
<text transform="translate(147.60 282.00) rotate(-90)" font-size="10.5" text-anchor="middle" fill="#111">7898</text>
<text transform="translate(175.60 158.00) rotate(-90)" font-size="10.5" text-anchor="middle" fill="#111">1700</text>
<text transform="translate(175.60 221.00) rotate(-90)" font-size="10.5" text-anchor="middle" fill="#111">1250</text>
<text transform="translate(175.60 289.00) rotate(-90)" font-size="10.5" text-anchor="middle" fill="#111">2269</text>
<text transform="translate(175.60 360.00) rotate(-90)" font-size="10.5" text-anchor="middle" fill="#111">1250</text>
<text transform="translate(175.60 404.00) rotate(-90)" font-size="10.5" text-anchor="middle" fill="#111">7</text>
<line x1="646.80" y1="118.00" x2="646.80" y2="449.00" stroke="#5c5c5c" stroke-width="0.9"/>
<line x1="665.00" y1="118.00" x2="665.00" y2="449.00" stroke="#5c5c5c" stroke-width="0.9"/>
<line x1="640.40" y1="120.30" x2="653.20" y2="133.10" stroke="#0a0a0a" stroke-width="1.7"/>
<line x1="640.40" y1="187.80" x2="653.20" y2="200.60" stroke="#0a0a0a" stroke-width="1.7"/>
<line x1="640.40" y1="237.65" x2="653.20" y2="250.45" stroke="#0a0a0a" stroke-width="1.7"/>
<line x1="640.40" y1="289.49" x2="653.20" y2="302.29" stroke="#0a0a0a" stroke-width="1.7"/>
<line x1="640.40" y1="321.39" x2="653.20" y2="334.19" stroke="#0a0a0a" stroke-width="1.7"/>
<line x1="640.40" y1="434.40" x2="653.20" y2="447.20" stroke="#0a0a0a" stroke-width="1.7"/>
<line x1="658.60" y1="120.30" x2="671.40" y2="133.10" stroke="#0a0a0a" stroke-width="1.7"/>
<line x1="658.60" y1="434.40" x2="671.40" y2="447.20" stroke="#0a0a0a" stroke-width="1.7"/>
<line x1="587.50" y1="194.20" x2="656.00" y2="194.20" stroke="#5c5c5c" stroke-width="0.9"/>
<line x1="587.50" y1="244.05" x2="656.00" y2="244.05" stroke="#5c5c5c" stroke-width="0.9"/>
<line x1="587.50" y1="295.89" x2="656.00" y2="295.89" stroke="#5c5c5c" stroke-width="0.9"/>
<line x1="587.50" y1="327.79" x2="656.00" y2="327.79" stroke="#5c5c5c" stroke-width="0.9"/>
<text transform="translate(643.20 158.50) rotate(-90)" font-size="10.5" text-anchor="middle" fill="#111">1700</text>
<text transform="translate(643.20 218.00) rotate(-90)" font-size="10.5" text-anchor="middle" fill="#111">1250</text>
<text transform="translate(643.20 268.00) rotate(-90)" font-size="10.5" text-anchor="middle" fill="#111">1300</text>
<text transform="translate(643.20 310.50) rotate(-90)" font-size="10.5" text-anchor="middle" fill="#111">800</text>
<text transform="translate(643.20 383.00) rotate(-90)" font-size="10.5" text-anchor="middle" fill="#111">2848</text>
<text transform="translate(661.40 283.00) rotate(-90)" font-size="10.5" text-anchor="middle" fill="#111">7898</text>
<line x1="185.00" y1="156.30" x2="227.50" y2="156.30" stroke="#5c5c5c" stroke-width="0.9"/>
<line x1="188.60" y1="162.70" x2="201.40" y2="149.90" stroke="#0a0a0a" stroke-width="1.7"/>
<line x1="211.10" y1="162.70" x2="223.90" y2="149.90" stroke="#0a0a0a" stroke-width="1.7"/>
<line x1="194.50" y1="147.00" x2="194.50" y2="209.03" stroke="#5c5c5c" stroke-width="0.9"/>
<text transform="translate(207.30 152.20)" font-size="10.5" text-anchor="middle" fill="#111">589</text>
<line x1="580.00" y1="174.80" x2="613.80" y2="174.80" stroke="#5c5c5c" stroke-width="0.9"/>
<line x1="574.40" y1="181.20" x2="587.20" y2="168.40" stroke="#0a0a0a" stroke-width="1.7"/>
<line x1="597.90" y1="181.20" x2="610.70" y2="168.40" stroke="#0a0a0a" stroke-width="1.7"/>
<line x1="604.30" y1="165.60" x2="604.30" y2="209.03" stroke="#5c5c5c" stroke-width="0.9"/>
<text transform="translate(594.20 170.20)" font-size="10.5" text-anchor="middle" fill="#111">588</text>
<line x1="208.80" y1="102.50" x2="590.00" y2="102.50" stroke="#5c5c5c" stroke-width="0.9"/>
<line x1="211.10" y1="108.90" x2="223.90" y2="96.10" stroke="#0a0a0a" stroke-width="1.7"/>
<line x1="574.60" y1="108.90" x2="587.40" y2="96.10" stroke="#0a0a0a" stroke-width="1.7"/>
<line x1="217.50" y1="93.00" x2="217.50" y2="115.00" stroke="#5c5c5c" stroke-width="0.9"/>
<line x1="217.50" y1="118.00" x2="217.50" y2="126.00" stroke="#5c5c5c" stroke-width="0.9"/>
<line x1="581.00" y1="93.00" x2="581.00" y2="115.00" stroke="#5c5c5c" stroke-width="0.9"/>
<line x1="581.00" y1="118.00" x2="581.00" y2="126.00" stroke="#5c5c5c" stroke-width="0.9"/>
<text transform="translate(400.50 97.60)" font-size="10.5" text-anchor="middle" fill="#111">9113</text>
<line x1="215.00" y1="169.40" x2="584.00" y2="169.40" stroke="#5c5c5c" stroke-width="0.9"/>
<line x1="218.04" y1="175.80" x2="230.84" y2="163.00" stroke="#0a0a0a" stroke-width="1.7"/>
<line x1="402.68" y1="175.80" x2="415.48" y2="163.00" stroke="#0a0a0a" stroke-width="1.7"/>
<line x1="409.62" y1="175.80" x2="422.42" y2="163.00" stroke="#0a0a0a" stroke-width="1.7"/>
<line x1="457.48" y1="175.80" x2="470.28" y2="163.00" stroke="#0a0a0a" stroke-width="1.7"/>
<line x1="462.42" y1="175.80" x2="475.22" y2="163.00" stroke="#0a0a0a" stroke-width="1.7"/>
<line x1="567.66" y1="175.80" x2="580.46" y2="163.00" stroke="#0a0a0a" stroke-width="1.7"/>
<text transform="translate(318.00 163.80)" font-size="10.5" text-anchor="middle" fill="#111">4630</text>
<text transform="translate(401.60 163.80)" font-size="10.5" text-anchor="middle" fill="#111">174</text>
<text transform="translate(441.00 163.80) scale(0.9 1)" font-size="10.5" text-anchor="middle" fill="#111">1200</text>
<text transform="translate(467.60 163.80)" font-size="10.5" text-anchor="middle" fill="#111">124</text>
<text transform="translate(522.60 163.80)" font-size="10.5" text-anchor="middle" fill="#111">2637</text>
<line x1="211.00" y1="420.50" x2="584.00" y2="420.50" stroke="#5c5c5c" stroke-width="0.9"/>
<line x1="211.10" y1="426.90" x2="223.90" y2="414.10" stroke="#0a0a0a" stroke-width="1.7"/>
<line x1="218.04" y1="426.90" x2="230.84" y2="414.10" stroke="#0a0a0a" stroke-width="1.7"/>
<line x1="402.68" y1="426.90" x2="415.48" y2="414.10" stroke="#0a0a0a" stroke-width="1.7"/>
<line x1="409.62" y1="426.90" x2="422.42" y2="414.10" stroke="#0a0a0a" stroke-width="1.7"/>
<line x1="481.41" y1="426.90" x2="494.21" y2="414.10" stroke="#0a0a0a" stroke-width="1.7"/>
<line x1="486.35" y1="426.90" x2="499.15" y2="414.10" stroke="#0a0a0a" stroke-width="1.7"/>
<line x1="567.66" y1="426.90" x2="580.46" y2="414.10" stroke="#0a0a0a" stroke-width="1.7"/>
<text transform="translate(239.30 415.00)" font-size="10.5" text-anchor="middle" fill="#111">174</text>
<text transform="translate(318.00 415.00)" font-size="10.5" text-anchor="middle" fill="#111">4630</text>
<text transform="translate(401.60 415.00)" font-size="10.5" text-anchor="middle" fill="#111">174</text>
<text transform="translate(453.40 415.00) scale(0.9 1)" font-size="10.5" text-anchor="middle" fill="#111">1800</text>
<text transform="translate(505.30 415.00)" font-size="10.5" text-anchor="middle" fill="#111">124</text>
<text transform="translate(534.60 415.00)" font-size="10.5" text-anchor="middle" fill="#111">2037</text>
<line x1="296.80" y1="127.00" x2="296.80" y2="368.00" stroke="#5c5c5c" stroke-width="0.9"/>
<line x1="290.40" y1="126.94" x2="303.20" y2="139.74" stroke="#0a0a0a" stroke-width="1.7"/>
<line x1="290.40" y1="202.63" x2="303.20" y2="215.43" stroke="#0a0a0a" stroke-width="1.7"/>
<line x1="290.40" y1="208.61" x2="303.20" y2="221.41" stroke="#0a0a0a" stroke-width="1.7"/>
<line x1="290.40" y1="274.89" x2="303.20" y2="287.69" stroke="#0a0a0a" stroke-width="1.7"/>
<line x1="290.40" y1="280.88" x2="303.20" y2="293.68" stroke="#0a0a0a" stroke-width="1.7"/>
<line x1="290.40" y1="347.16" x2="303.20" y2="359.96" stroke="#0a0a0a" stroke-width="1.7"/>
<line x1="290.40" y1="353.14" x2="303.20" y2="365.94" stroke="#0a0a0a" stroke-width="1.7"/>
<text transform="translate(293.60 172.50) rotate(-90)" font-size="10.5" text-anchor="middle" fill="#111">1898</text>
<text transform="translate(293.60 212.50) rotate(-90)" font-size="10.5" text-anchor="middle" fill="#111">150</text>
<text transform="translate(293.60 246.50) rotate(-90)" font-size="10.5" text-anchor="middle" fill="#111">1662</text>
<text transform="translate(293.60 284.50) rotate(-90)" font-size="10.5" text-anchor="middle" fill="#111">150</text>
<text transform="translate(293.60 319.00) rotate(-90)" font-size="10.5" text-anchor="middle" fill="#111">1662</text>
<text transform="translate(293.60 357.00) rotate(-90)" font-size="10.5" text-anchor="middle" fill="#111">150</text>
<line x1="357.00" y1="127.00" x2="357.00" y2="465.00" stroke="#5c5c5c" stroke-width="0.9"/>
<line x1="350.60" y1="126.94" x2="363.40" y2="139.74" stroke="#0a0a0a" stroke-width="1.7"/>
<line x1="350.60" y1="261.53" x2="363.40" y2="274.33" stroke="#0a0a0a" stroke-width="1.7"/>
<line x1="350.60" y1="266.48" x2="363.40" y2="279.28" stroke="#0a0a0a" stroke-width="1.7"/>
<line x1="350.60" y1="427.66" x2="363.40" y2="440.46" stroke="#0a0a0a" stroke-width="1.7"/>
<line x1="350.60" y1="434.60" x2="363.40" y2="447.40" stroke="#0a0a0a" stroke-width="1.7"/>
<text transform="translate(353.00 200.50) rotate(-90)" font-size="10.5" text-anchor="middle" fill="#111">3375</text>
<text transform="translate(354.00 284.50) rotate(-90)" font-size="10.5" text-anchor="middle" fill="#111">124</text>
<text transform="translate(353.00 353.00) rotate(-90)" font-size="10.5" text-anchor="middle" fill="#111">4051</text>
<text transform="translate(353.00 459.00) rotate(-90)" font-size="10.5" text-anchor="middle" fill="#111">174</text>
<line x1="390.20" y1="127.00" x2="390.20" y2="322.00" stroke="#5c5c5c" stroke-width="0.9"/>
<line x1="383.80" y1="126.94" x2="396.60" y2="139.74" stroke="#0a0a0a" stroke-width="1.7"/>
<line x1="383.80" y1="217.67" x2="396.60" y2="230.47" stroke="#0a0a0a" stroke-width="1.7"/>
<line x1="383.80" y1="253.56" x2="396.60" y2="266.36" stroke="#0a0a0a" stroke-width="1.7"/>
<line x1="383.80" y1="261.53" x2="396.60" y2="274.33" stroke="#0a0a0a" stroke-width="1.7"/>
<line x1="383.80" y1="266.48" x2="396.60" y2="279.28" stroke="#0a0a0a" stroke-width="1.7"/>
<line x1="383.80" y1="272.70" x2="396.60" y2="285.50" stroke="#0a0a0a" stroke-width="1.7"/>
<line x1="383.80" y1="308.59" x2="396.60" y2="321.39" stroke="#0a0a0a" stroke-width="1.7"/>
<text transform="translate(385.80 178.50) rotate(-90)" font-size="10.5" text-anchor="middle" fill="#111">2275</text>
<text transform="translate(385.20 240.00) rotate(-90)" font-size="10.5" text-anchor="middle" fill="#111">900</text>
<text transform="translate(385.20 261.50) rotate(-90)" font-size="10.5" text-anchor="middle" fill="#111">200</text>
<text transform="translate(380.00 280.50) rotate(-90)" font-size="10.5" text-anchor="middle" fill="#111">156</text>
<text transform="translate(385.00 297.00) rotate(-82)" font-size="10.5" text-anchor="middle" fill="#111">900</text>
<text transform="translate(371.20 253.00) rotate(-90)" font-size="10.5" text-anchor="middle" fill="#111">124</text>
<line x1="373.80" y1="246.00" x2="373.80" y2="260.00" stroke="#5c5c5c" stroke-width="0.9"/>
<line x1="373.80" y1="260.00" x2="388.00" y2="270.00" stroke="#5c5c5c" stroke-width="0.9"/>
<line x1="504.30" y1="127.00" x2="504.30" y2="274.00" stroke="#5c5c5c" stroke-width="0.9"/>
<line x1="497.90" y1="126.94" x2="510.70" y2="139.74" stroke="#0a0a0a" stroke-width="1.7"/>
<line x1="497.90" y1="217.67" x2="510.70" y2="230.47" stroke="#0a0a0a" stroke-width="1.7"/>
<line x1="497.90" y1="253.56" x2="510.70" y2="266.36" stroke="#0a0a0a" stroke-width="1.7"/>
<line x1="497.90" y1="261.53" x2="510.70" y2="274.33" stroke="#0a0a0a" stroke-width="1.7"/>
<text transform="translate(500.40 178.50) rotate(-90)" font-size="10.5" text-anchor="middle" fill="#111">2275</text>
<text transform="translate(498.40 241.00) rotate(-90)" font-size="10.5" text-anchor="middle" fill="#111">900</text>
<text transform="translate(498.40 262.50) rotate(-90)" font-size="10.5" text-anchor="middle" fill="#111">200</text>
<line x1="522.00" y1="263.00" x2="522.00" y2="322.00" stroke="#5c5c5c" stroke-width="0.9"/>
<line x1="515.60" y1="266.48" x2="528.40" y2="279.28" stroke="#0a0a0a" stroke-width="1.7"/>
<line x1="515.60" y1="272.70" x2="528.40" y2="285.50" stroke="#0a0a0a" stroke-width="1.7"/>
<line x1="515.60" y1="308.59" x2="528.40" y2="321.39" stroke="#0a0a0a" stroke-width="1.7"/>
<text transform="translate(518.40 298.50) rotate(-90)" font-size="10.5" text-anchor="middle" fill="#111">900</text>
<text transform="translate(546.00 290.50) rotate(-90)" font-size="10.5" text-anchor="middle" fill="#111">156</text>
<line x1="550.00" y1="283.00" x2="550.00" y2="298.50" stroke="#5c5c5c" stroke-width="0.9"/>
<line x1="550.00" y1="283.00" x2="530.00" y2="277.50" stroke="#5c5c5c" stroke-width="0.9"/>
<line x1="564.60" y1="127.00" x2="564.60" y2="446.00" stroke="#5c5c5c" stroke-width="0.9"/>
<line x1="558.20" y1="126.94" x2="571.00" y2="139.74" stroke="#0a0a0a" stroke-width="1.7"/>
<line x1="558.20" y1="261.53" x2="571.00" y2="274.33" stroke="#0a0a0a" stroke-width="1.7"/>
<line x1="558.20" y1="266.48" x2="571.00" y2="279.28" stroke="#0a0a0a" stroke-width="1.7"/>
<line x1="558.20" y1="427.66" x2="571.00" y2="440.46" stroke="#0a0a0a" stroke-width="1.7"/>
<text transform="translate(561.20 201.00) rotate(-90)" font-size="10.5" text-anchor="middle" fill="#111">3375</text>
<text transform="translate(560.40 268.50) rotate(-90)" font-size="10.5" text-anchor="middle" fill="#111">124</text>
<text transform="translate(561.20 353.00) rotate(-90)" font-size="10.5" text-anchor="middle" fill="#111">4051</text>
<line x1="408.00" y1="319.30" x2="474.00" y2="319.30" stroke="#5c5c5c" stroke-width="0.9"/>
<line x1="464.00" y1="319.00" x2="464.00" y2="328.00" stroke="#5c5c5c" stroke-width="0.9"/>
<line x1="409.62" y1="325.70" x2="422.42" y2="312.90" stroke="#0a0a0a" stroke-width="1.7"/>
<line x1="457.48" y1="325.70" x2="470.28" y2="312.90" stroke="#0a0a0a" stroke-width="1.7"/>
<text transform="translate(441.50 313.60) scale(0.9 1)" font-size="10.5" text-anchor="middle" fill="#111">1200</text>
<line x1="212.00" y1="510.50" x2="590.50" y2="510.50" stroke="#5c5c5c" stroke-width="0.9"/>
<line x1="212.00" y1="538.30" x2="587.50" y2="538.30" stroke="#5c5c5c" stroke-width="0.9"/>
<line x1="214.85" y1="516.90" x2="227.65" y2="504.10" stroke="#0a0a0a" stroke-width="1.7"/>
<line x1="252.85" y1="516.90" x2="265.65" y2="504.10" stroke="#0a0a0a" stroke-width="1.7"/>
<line x1="375.35" y1="516.90" x2="388.15" y2="504.10" stroke="#0a0a0a" stroke-width="1.7"/>
<line x1="406.10" y1="516.90" x2="418.90" y2="504.10" stroke="#0a0a0a" stroke-width="1.7"/>
<line x1="574.20" y1="516.90" x2="587.00" y2="504.10" stroke="#0a0a0a" stroke-width="1.7"/>
<line x1="214.85" y1="544.70" x2="227.65" y2="531.90" stroke="#0a0a0a" stroke-width="1.7"/>
<line x1="571.20" y1="544.70" x2="584.00" y2="531.90" stroke="#0a0a0a" stroke-width="1.7"/>
<text transform="translate(241.20 505.00)" font-size="10.5" text-anchor="middle" fill="#111">949</text>
<text transform="translate(321.50 505.00)" font-size="10.5" text-anchor="middle" fill="#111">3080</text>
<text transform="translate(399.50 505.00)" font-size="10.5" text-anchor="middle" fill="#111">775</text>
<text transform="translate(498.00 505.00)" font-size="10.5" text-anchor="middle" fill="#111">4222</text>
<text transform="translate(399.50 533.00)" font-size="10.5" text-anchor="middle" fill="#111">8939</text>
<circle cx="66.30" cy="129.80" r="16" fill="#fff" stroke="#555" stroke-width="0.9"/>
<text transform="translate(66.30 135.40)" font-size="15.8" text-anchor="middle" fill="#111">4</text>
<circle cx="67.00" cy="274.30" r="16" fill="#fff" stroke="#555" stroke-width="0.9"/>
<text transform="translate(67.00 279.90)" font-size="15.8" text-anchor="middle" fill="#111">3</text>
<circle cx="67.00" cy="437.60" r="16" fill="#fff" stroke="#555" stroke-width="0.9"/>
<text transform="translate(67.00 443.20)" font-size="15.8" text-anchor="middle" fill="#111">2</text>
<circle cx="221.25" cy="563.80" r="16" fill="#fff" stroke="#555" stroke-width="0.9"/>
<text transform="translate(221.25 569.40)" font-size="15.8" text-anchor="middle" fill="#111">Б</text>
<circle cx="259.25" cy="563.80" r="16" fill="#fff" stroke="#555" stroke-width="0.9"/>
<text transform="translate(259.25 569.40)" font-size="15.8" text-anchor="middle" fill="#111">В</text>
<circle cx="381.75" cy="563.80" r="16" fill="#fff" stroke="#555" stroke-width="0.9"/>
<text transform="translate(381.75 569.40)" font-size="15.8" text-anchor="middle" fill="#111">Г</text>
<circle cx="412.50" cy="561.80" r="16" fill="#fff" stroke="#555" stroke-width="0.9"/>
<text transform="translate(412.50 567.40)" font-size="15.8" text-anchor="middle" fill="#111">Д</text>
<circle cx="491.25" cy="563.80" r="16" fill="#fff" stroke="#555" stroke-width="0.9"/>
<text transform="translate(491.25 569.40)" font-size="15.8" text-anchor="middle" fill="#111">Е</text>
<circle cx="577.60" cy="563.80" r="16" fill="#fff" stroke="#555" stroke-width="0.9"/>
<text transform="translate(577.60 569.40)" font-size="15.8" text-anchor="middle" fill="#111">Ж</text>
<rect x="449.30" y="24.50" width="5.70" height="40.00" fill="#000" stroke="none" stroke-width="1.4"/>
<line x1="455.00" y1="36.80" x2="499.30" y2="36.80" stroke="#5c5c5c" stroke-width="0.9"/>
<polygon points="455.00,36.80 468.00,34.50 468.00,39.10" fill="#0a0a0a" stroke="none" stroke-width="0"/>
<text transform="translate(491.50 19.00)" font-size="12.5" text-anchor="middle" fill="#111">1</text>
<rect x="449.30" y="535.00" width="5.70" height="39.30" fill="#000" stroke="none" stroke-width="1.4"/>
<line x1="455.00" y1="562.60" x2="487.50" y2="562.60" stroke="#5c5c5c" stroke-width="0.9"/>
<polygon points="455.00,562.60 468.00,560.30 468.00,564.90" fill="#0a0a0a" stroke="none" stroke-width="0"/>
<text transform="translate(468.80 593.00)" font-size="12.5" text-anchor="middle" fill="#111">1</text>
<rect x="75.00" y="181.30" width="40.00" height="5.70" fill="#000" stroke="none" stroke-width="1.4"/>
<line x1="86.80" y1="187.00" x2="86.80" y2="230.30" stroke="#5c5c5c" stroke-width="0.9"/>
<polygon points="86.80,187.00 84.50,199.50 89.10,199.50" fill="#0a0a0a" stroke="none" stroke-width="0"/>
<text transform="translate(78.20 214.00)" font-size="12.5" text-anchor="middle" fill="#111">2</text>
<rect x="700.00" y="181.30" width="40.50" height="5.70" fill="#000" stroke="none" stroke-width="1.4"/>
<line x1="728.30" y1="187.00" x2="728.30" y2="230.50" stroke="#5c5c5c" stroke-width="0.9"/>
<polygon points="728.30,187.00 726.00,199.50 730.60,199.50" fill="#0a0a0a" stroke="none" stroke-width="0"/>
<text transform="translate(746.30 214.00)" font-size="12.5" text-anchor="middle" fill="#111">2</text>
<text transform="translate(624.50 87.40)" font-size="10.5" text-anchor="middle" fill="#111">мауэрлат</text>
<line x1="597.50" y1="95.00" x2="646.80" y2="95.00" stroke="#5c5c5c" stroke-width="0.9"/>
<line x1="597.50" y1="95.00" x2="587.50" y2="127.50" stroke="#5c5c5c" stroke-width="0.9"/>
<polygon points="587.50,127.50 593.18,117.53 588.40,116.06" fill="#0a0a0a" stroke="none" stroke-width="0"/>
<text transform="translate(689.30 160.60)" font-size="10.5" text-anchor="middle" fill="#111">прогон</text>
<line x1="667.50" y1="167.00" x2="707.50" y2="167.00" stroke="#5c5c5c" stroke-width="0.9"/>
<line x1="667.50" y1="167.00" x2="601.30" y2="210.50" stroke="#5c5c5c" stroke-width="0.9"/>
<polygon points="601.30,210.50 612.03,206.44 609.29,202.26" fill="#0a0a0a" stroke="none" stroke-width="0"/>
<text transform="translate(702.50 310.80)" font-size="11.2" text-anchor="middle" fill="#111">Коньковая</text>
<line x1="673.00" y1="318.00" x2="729.00" y2="318.00" stroke="#5c5c5c" stroke-width="0.9"/>
<line x1="673.00" y1="318.00" x2="603.80" y2="285.00" stroke="#5c5c5c" stroke-width="0.9"/>
<polygon points="603.80,285.00 612.83,292.08 614.99,287.56" fill="#0a0a0a" stroke="none" stroke-width="0"/>
<text transform="translate(702.00 332.00)" font-size="11.2" text-anchor="middle" fill="#111">балка</text>
<text transform="translate(618.50 411.00)" font-size="10.5" text-anchor="middle" fill="#111">прогон</text>
<line x1="597.00" y1="418.80" x2="637.00" y2="418.80" stroke="#5c5c5c" stroke-width="0.9"/>
<line x1="597.00" y1="418.80" x2="586.30" y2="358.80" stroke="#5c5c5c" stroke-width="0.9"/>
<polygon points="586.30,358.80 585.81,370.26 590.73,369.39" fill="#0a0a0a" stroke="none" stroke-width="0"/>
<text transform="translate(634.00 463.20)" font-size="10.5" text-anchor="middle" fill="#111">мауэрлат</text>
<line x1="607.50" y1="470.00" x2="657.00" y2="470.00" stroke="#5c5c5c" stroke-width="0.9"/>
<line x1="607.50" y1="470.00" x2="591.30" y2="437.50" stroke="#5c5c5c" stroke-width="0.9"/>
<polygon points="591.30,437.50 594.06,448.64 598.53,446.41" fill="#0a0a0a" stroke="none" stroke-width="0"/>
<rect x="167.50" y="406.20" width="24.50" height="18.60" fill="#fff" stroke="none" stroke-width="1.4"/>
<text transform="translate(180.30 419.30) scale(1.06 1)" font-size="10.5" text-anchor="middle" fill="#111">Б–4</text>
<line x1="165.00" y1="425.80" x2="193.00" y2="425.80" stroke="#5c5c5c" stroke-width="0.9"/>
<line x1="193.00" y1="425.80" x2="217.50" y2="411.30" stroke="#5c5c5c" stroke-width="0.9"/>
<polygon points="217.50,411.30 206.59,414.85 209.13,419.16" fill="#0a0a0a" stroke="none" stroke-width="0"/>
<text transform="translate(210.30 215.80) rotate(-90)" font-size="13.6" text-anchor="middle" fill="#111">ОК-2</text>
<text transform="translate(210.60 356.00) rotate(-90)" font-size="13.6" text-anchor="middle" fill="#111">ОК-2</text>
<text transform="translate(594.60 217.80) rotate(-90)" font-size="13.6" text-anchor="middle" fill="#111">ОК-2</text>
<text transform="translate(594.60 310.50) rotate(-90)" font-size="13.6" text-anchor="middle" fill="#111">ОК-1</text>
<text transform="translate(456.60 455.70)" font-size="13.6" text-anchor="middle" fill="#111">ОК-1</text>
<text transform="translate(325.30 235.20)" font-size="10.5" text-anchor="middle" fill="#111">Спальня</text>
<text transform="translate(325.50 251.80)" font-size="13.7" text-anchor="middle" fill="#111">15.63</text>
<line x1="307.50" y1="253.90" x2="342.50" y2="253.90" stroke="#222" stroke-width="1.0"/>
<text transform="translate(259.80 376.80)" font-size="10.5" text-anchor="middle" fill="#111">Спальня</text>
<text transform="translate(260.75 391.30)" font-size="13.7" text-anchor="middle" fill="#111">18.80</text>
<line x1="243.00" y1="393.30" x2="277.50" y2="393.30" stroke="#222" stroke-width="1.0"/>
<text transform="translate(441.50 250.00)" font-size="10.5" text-anchor="middle" fill="#111">Коридор</text>
<text transform="translate(444.00 268.00)" font-size="13.7" text-anchor="middle" fill="#111">3.83</text>
<line x1="430.00" y1="270.00" x2="457.00" y2="270.00" stroke="#222" stroke-width="1.0"/>
<text transform="translate(535.00 240.00)" font-size="10.5" text-anchor="middle" fill="#111">Детская</text>
<text transform="translate(541.00 251.50)" font-size="13.7" text-anchor="middle" fill="#111">11.66</text>
<line x1="523.00" y1="253.60" x2="558.00" y2="253.60" stroke="#222" stroke-width="1.0"/>
<text transform="translate(527.50 376.50)" font-size="10.5" text-anchor="middle" fill="#111">Ванная</text>
<text transform="translate(528.50 400.00)" font-size="13.7" text-anchor="middle" fill="#111">8.25</text>
<line x1="514.00" y1="402.20" x2="542.00" y2="402.20" stroke="#222" stroke-width="1.0"/>
</svg>
</body></html>
